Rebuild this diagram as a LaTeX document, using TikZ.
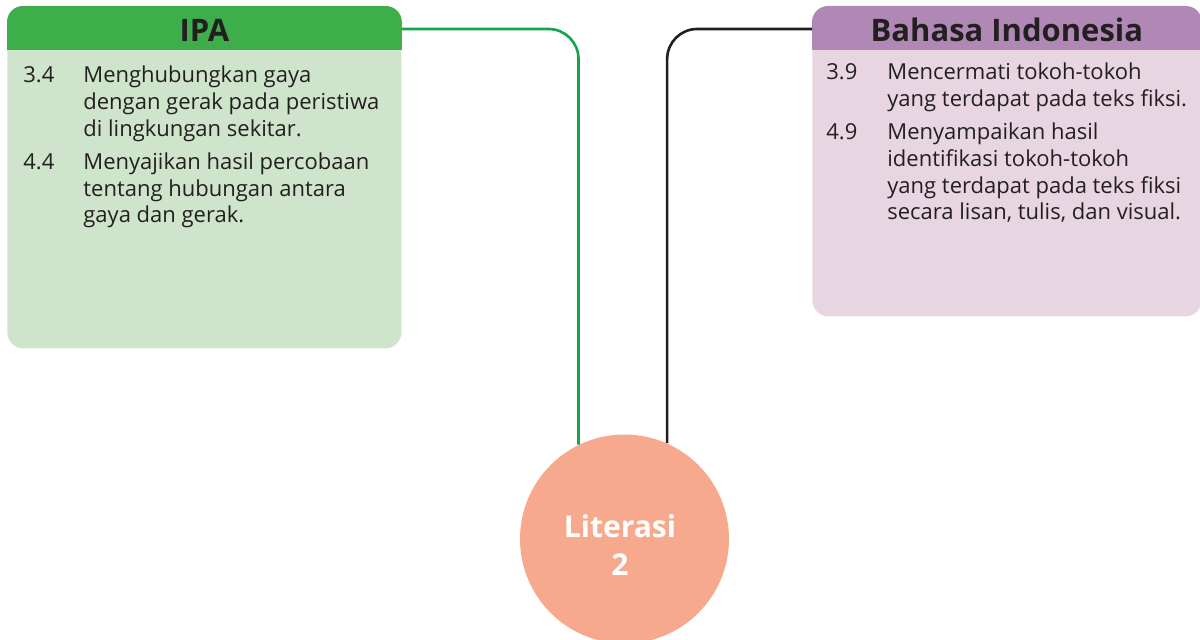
\documentclass[tikz,border=0pt]{standalone}
\usepackage{fontspec}
\setmainfont{Open Sans}
\usetikzlibrary{positioning}
\definecolor{ipaG}{HTML}{3EAE4B}
\definecolor{ipaL}{HTML}{CFE5CB}
\definecolor{ipaLn}{HTML}{13A54B}
\definecolor{biP}{HTML}{B088B6}
\definecolor{biL}{HTML}{E8D5E2}
\definecolor{ink}{HTML}{231F20}
\definecolor{peach}{HTML}{F7A98E}
\tikzset{bx/.style={rectangle,rounded corners=8pt,anchor=north west,inner sep=0pt},
 tt/.style={font=\fontsize{15.5}{18}\selectfont\bfseries,text=ink,inner sep=0pt,anchor=base},
 tx/.style={anchor=base west,inner sep=0pt,font=\fontsize{11}{13.35}\selectfont,text=ink},
 lt/.style={font=\fontsize{15}{19}\selectfont\bfseries,text=white,inner sep=0pt,anchor=base},
 ln/.style={line width=1.3pt,rounded corners=15pt}}
\begin{document}
\begin{tikzpicture}[x=0.5pt,y=-0.5pt]
\useasboundingbox(0,0)rectangle(1200,640);
% IPA box
\node[bx,fill=ipaL,minimum width=197pt,minimum height=171pt](ipa)at(7,6){};
\fill[ipaG,rounded corners=8pt](ipa.north west)rectangle([yshift=-22pt]ipa.north east);
\fill[ipaG]([yshift=-11pt]ipa.north west)rectangle([yshift=-22pt]ipa.north east);
\node[tt](ipat)at(ipa.north|-0,42){IPA};
\node[tx](ipatx)at(23,83){\begin{tabular}[t]{@{}p{30pt}@{}l@{}}
3.4&Menghubungkan gaya\\
&dengan gerak pada peristiwa\\
&di lingkungan sekitar.\\[3.2pt]
4.4&Menyajikan hasil percobaan\\
&tentang hubungan antara\\
&gaya dan gerak.
\end{tabular}};
% Bahasa Indonesia box
\node[bx,fill=biL,minimum width=194.5pt,minimum height=155pt](bi)at(812,6){};
\fill[biP,rounded corners=8pt](bi.north west)rectangle([yshift=-22pt]bi.north east);
\fill[biP]([yshift=-11pt]bi.north west)rectangle([yshift=-22pt]bi.north east);
\node[tt](bit)at(bi.north|-0,42){Bahasa Indonesia};
\node[tx](bitx)at(826,80){\begin{tabular}[t]{@{}p{30.5pt}@{}l@{}}
3.9&Mencermati tokoh-tokoh\\
&yang terdapat pada teks fiksi.\\[3.2pt]
4.9&Menyampaikan hasil\\
&identifikasi tokoh-tokoh\\
&yang terdapat pada teks fiksi\\
&secara lisan, tulis, dan visual.
\end{tabular}};
% Literasi 2
\node[circle,fill=peach,minimum size=104.5pt,inner sep=0pt](lit)at(624.5,539){};
\node[lt](lit1)at(620,538){Literasi};
\node[lt](lit2)at(620,576){2};
\draw[ln,ipaLn](ipa.east|-0,29)-|(lit.116);
\draw[ln,ink](bi.west|-0,29)-|(lit.66);
\end{tikzpicture}
\end{document}
